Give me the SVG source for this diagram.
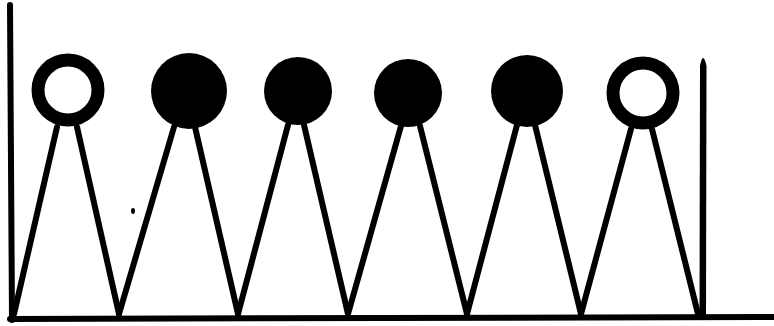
<svg xmlns="http://www.w3.org/2000/svg" width="774" height="326" viewBox="0 0 774 326">
<style>
.leg{stroke:#000;stroke-width:6;stroke-linecap:round;fill:none}
.axis{stroke:#000;stroke-width:6;stroke-linecap:round;fill:none}
.full{fill:#000}
.ring{fill:#fff;stroke:#000;stroke-width:13}
</style>
<rect width="774" height="326" fill="#fff"/>
<g id="axes">
<path class="axis" d="M10,5 L12,320"/>
<path class="axis" d="M10,319 L774,317"/>
<path d="M699.5,318 L700,66 Q703,50 706.5,66 L706,318 Z" fill="#000"/>
</g>
<g id="connectors">
<line class="leg" x1="57" y1="127" x2="14" y2="314"/>
<line class="leg" x1="77" y1="127" x2="119" y2="314"/>
<line class="leg" x1="174" y1="127" x2="119" y2="314"/>
<line class="leg" x1="195" y1="127" x2="238" y2="314"/>
<line class="leg" x1="288" y1="125" x2="238" y2="314"/>
<line class="leg" x1="304" y1="125" x2="348" y2="314"/>
<line class="leg" x1="401" y1="126" x2="348" y2="314"/>
<line class="leg" x1="420" y1="126" x2="467" y2="314"/>
<line class="leg" x1="517" y1="125" x2="467" y2="314"/>
<line class="leg" x1="535" y1="125" x2="581" y2="314"/>
<line class="leg" x1="631" y1="129" x2="581" y2="314"/>
<line class="leg" x1="652" y1="129" x2="698" y2="314"/>
</g>
<g id="node1"><circle class="ring" cx="68" cy="90" r="30"/></g>
<g id="node2"><circle class="full" cx="189" cy="91" r="38"/></g>
<g id="node3"><circle class="full" cx="298" cy="91" r="34"/></g>
<g id="node4"><circle class="full" cx="408" cy="93" r="34"/></g>
<g id="node5"><circle class="full" cx="527" cy="91" r="36"/></g>
<g id="node6"><circle class="ring" cx="643" cy="93" r="30"/></g>
<ellipse cx="133" cy="211" rx="2" ry="3" fill="#000"/>
</svg>
